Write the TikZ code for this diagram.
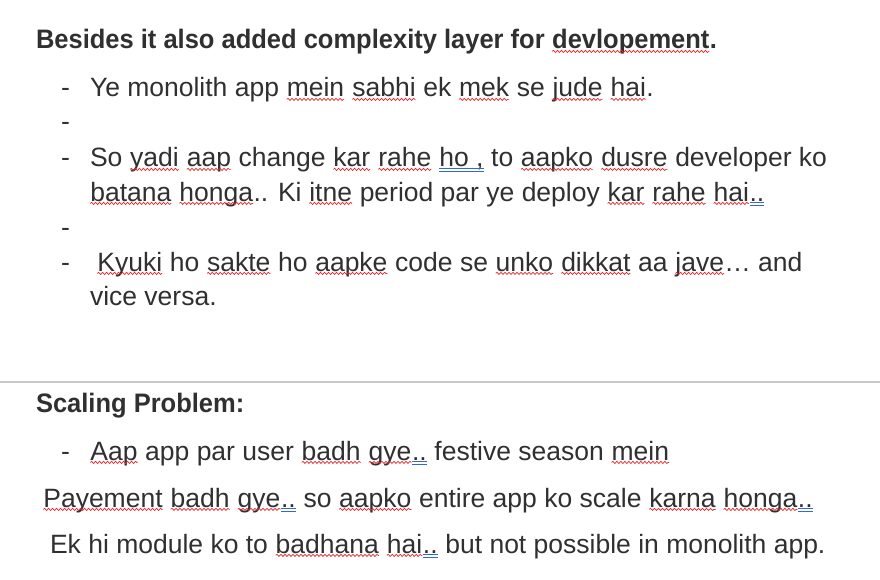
\documentclass[tikz,border=0pt]{standalone}
\usepackage{fontspec}
\setmainfont{Liberation Sans}
\newfontfamily\hdfont{Liberation Sans}[FakeStretch=0.955]
\usetikzlibrary{decorations.pathmorphing}
\definecolor{txt}{HTML}{303030}
\definecolor{sq}{HTML}{E8262A}
\definecolor{gb}{HTML}{3366D6}
\definecolor{rulec}{HTML}{C8C8C8}
\newcommand\rw[1]{\tikz[baseline=(w.base)]{\node[inner sep=0pt,outer sep=0pt,anchor=base](w){#1};\draw[sq,line width=0.7pt,decorate,decoration={snake,segment length=4pt,amplitude=1.1pt}]([yshift=-2.4pt]w.base west)--([yshift=-2.4pt]w.base east);}}
\newcommand\bu[1]{\tikz[baseline=(w.base)]{\node[inner sep=0pt,outer sep=0pt,anchor=base](w){#1};\draw[gb,line width=0.6pt]([yshift=-1.4pt]w.base west)--([yshift=-1.4pt]w.base east);\draw[gb,line width=0.6pt]([yshift=-3.9pt]w.base west)--([yshift=-3.9pt]w.base east);}}
\tikzset{
  txtline/.style={anchor=base west,inner sep=0pt,outer sep=0pt,text=txt,font=\fontsize{26.5}{32}\selectfont},
  hdline/.style={txtline,font=\hdfont\bfseries\fontsize{26.7}{32}\selectfont},
}
\begin{document}
\begin{tikzpicture}[x=1pt,y=-1pt]
\fill[white] (0,0) rectangle (880,580);
\path[use as bounding box] (0,0) rectangle (880,580);
\node[hdline] (h1) at (36,49) {Besides it also added complexity layer for \rw{devlopement}.};
\node[txtline] (d1) at (61,97) {-};
\node[txtline] (l2) at (90,97) {Ye monolith app \rw{mein} \rw{sabhi} ek \rw{mek} se \rw{jude} \rw{hai}.};
\node[txtline] (d2) at (61,131) {-};
\node[txtline] (d3) at (61,167) {-};
\node[txtline] (l3) at (90,167) {So \rw{yadi} \rw{aap} change \rw{kar} \rw{rahe} \bu{ho ,} to \rw{aapko} \rw{dusre} developer ko};
\node[txtline] (l4) at (90,201) {\rw{batana} \rw{honga}.. Ki \rw{itne} period par ye deploy \rw{kar} \rw{rahe} \rw{hai}\bu{..}};
\node[txtline] (d4) at (61,236) {-};
\node[txtline] (d5) at (61,271) {-};
\node[txtline] (l5) at (97,271) {\rw{Kyuki} ho \rw{sakte} ho \rw{aapke} code se \rw{unko} \rw{dikkat} aa \rw{jave}… and};
\node[txtline] (l6) at (90,305) {vice versa.};
\coordinate (rl) at (0,382);
\coordinate (rr) at (880,382);
\draw[rulec,line width=1.3pt] (rl) -- (rr);
\node[hdline] (h2) at (36,412) {Scaling Problem:};
\node[txtline] (d6) at (61,460) {-};
\node[txtline] (s1) at (90,460) {\rw{Aap} app par user \rw{badh} \rw{gye}\bu{..} festive season \rw{mein}};
\node[txtline] (s2) at (43,507) {\rw{Payement} \rw{badh} \rw{gye}\bu{..} so \rw{aapko} entire app ko scale \rw{karna} \rw{honga}\bu{..}};
\node[txtline] (s3) at (50,553) {Ek hi module ko to \rw{badhana} \rw{hai}\bu{..} but not possible in monolith app.};
\end{tikzpicture}
\end{document}
